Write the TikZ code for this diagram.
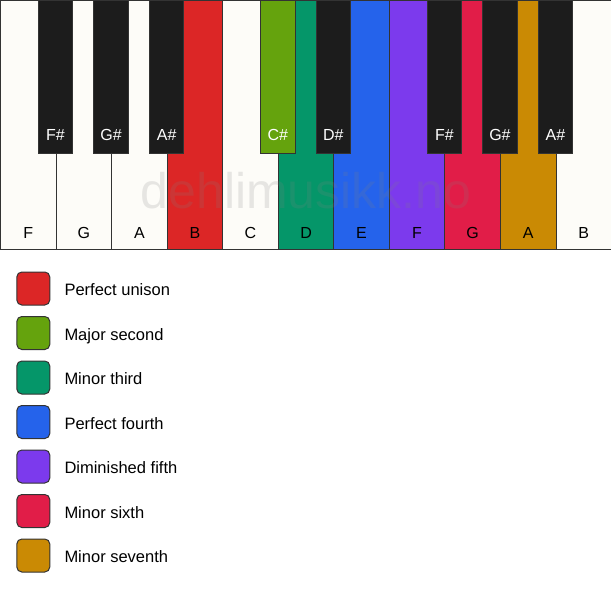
\documentclass[tikz,border=0pt]{standalone}
\usepackage{fontspec}
\setmainfont{Liberation Sans}
\usetikzlibrary{positioning}
\definecolor{keyline}{HTML}{333333}
\definecolor{ivory}{HTML}{FDFCF8}
\definecolor{ebony}{HTML}{1C1C1C}
\definecolor{unison}{HTML}{DC2626}
\definecolor{second}{HTML}{65A30D}
\definecolor{minthird}{HTML}{059669}
\definecolor{fourth}{HTML}{2563EB}
\definecolor{dimfifth}{HTML}{7C3AED}
\definecolor{minsixth}{HTML}{E11D48}
\definecolor{minseventh}{HTML}{CA8A04}

\begin{document}
\begin{tikzpicture}[x=1pt, y=-1pt,
    whitekey/.style={rectangle, draw=keyline, line width=1pt, fill=ivory,
                     minimum width=55.55pt, minimum height=249pt,
                     anchor=north west, inner sep=0pt},
    blackkey/.style={rectangle, draw=keyline, line width=1pt, fill=ebony,
                     minimum width=34.5pt, minimum height=152.5pt,
                     anchor=north, inner sep=0pt},
    keyname/.style={font=\fontsize{16}{18}\selectfont, text=black, anchor=base, inner sep=0pt},
    sharpname/.style={font=\fontsize{16}{18}\selectfont, text=white, anchor=base, inner sep=0pt},
    swatch/.style={rectangle, draw=keyline, line width=1pt, rounded corners=5pt,
                   minimum size=33pt, inner sep=0pt},
    legendtext/.style={font=\fontsize{16.5}{18}\selectfont, anchor=base west, inner sep=0pt}
]
    \useasboundingbox (0,0) rectangle (611,594);
    % white keys
    \foreach \name/\col [count=\i from 0] in {F/ivory, G/ivory, A/ivory, B/unison,
        C/ivory, D/minthird, E/fourth, F/dimfifth, G/minsixth, A/minseventh, B/ivory}{
        \node[whitekey, fill=\col] (w\i) at (\i*55.55,0) {};
        \node[keyname] (wl\i) at ([yshift=12pt]w\i.south) {\name};
    }
    % watermark
    \node[font=\fontsize{50}{52}\selectfont, text=gray, opacity=0.18] (mark)
        at (306,191) {dehlimusikk.no};
    % black keys
    \foreach \name/\pos/\col in {F\#/1/ebony, G\#/2/ebony, A\#/3/ebony, C\#/5/second,
        D\#/6/ebony, F\#/8/ebony, G\#/9/ebony, A\#/10/ebony}{
        \node[blackkey, fill=\col] (b\pos) at (\pos*55.55,0) {};
        \node[sharpname] (bl\pos) at ([yshift=13.5pt]b\pos.south) {\name};
    }
    % legend
    \foreach \col/\txt [count=\k from 0] in {unison/Perfect unison, second/Major second,
        minthird/Minor third, fourth/Perfect fourth, dimfifth/Diminished fifth,
        minsixth/Minor sixth, minseventh/Minor seventh}{
        \node[swatch, fill=\col] (s\k) at (33.3,288.5+\k*44.5) {};
        \node[legendtext] (t\k) at ([xshift=14pt, yshift=-7pt]s\k.east) {\txt};
    }
\end{tikzpicture}
\end{document}
